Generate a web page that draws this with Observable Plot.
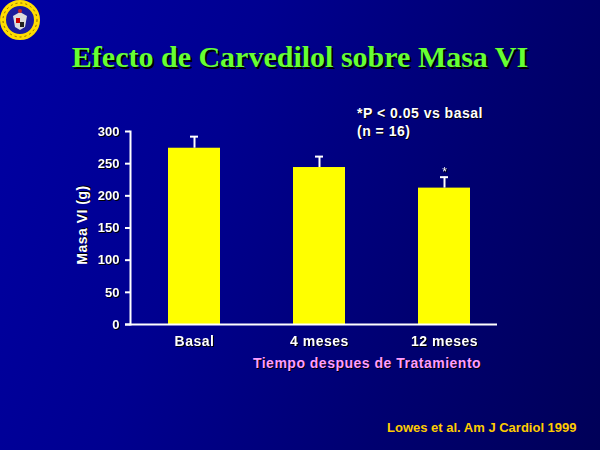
<!DOCTYPE html>
<html>
<head>
<meta charset="utf-8">
<script src="https://cdn.jsdelivr.net/npm/d3@7"></script>
<script src="https://cdn.jsdelivr.net/npm/@observablehq/plot@0.6"></script>
<style>
  html, body { margin: 0; padding: 0; }
  #slide {
    position: relative; width: 600px; height: 450px; overflow: hidden;
    background: linear-gradient(110deg, #0000a4 0%, #000090 35%, #000070 70%, #000058 100%);
    font-family: "Liberation Sans", Arial, sans-serif;
  }
  #chart { position: absolute; left: 0; top: 0; }
  #chart svg text { filter: drop-shadow(1px 1px 0 #000); }
  .t { position: absolute; white-space: nowrap; line-height: 1; }
  #title {
    left: 0; width: 600px; text-align: center; top: 42px;
    font-family: "Liberation Serif", "Times New Roman", serif; font-weight: bold;
    font-size: 30px; color: #66ff33; text-shadow: 2px 2px 0 #000;
  }
  #note { left: 357px; top: 104px; color: #fff; font-weight: bold; font-size: 14px; letter-spacing: 0.5px; line-height: 18px; text-shadow: 1px 1px 0 #000; }
  #xlab { left: 367px; top: 356px; transform: translateX(-50%); color: #ff9cff; font-weight: bold; font-size: 14px; letter-spacing: 0.5px; text-shadow: 1px 1px 0 #000; }
  #ylab { left: 82px; top: 225px; transform: translate(-50%, -50%) rotate(-90deg); color: #fff; font-weight: bold; font-size: 14px; letter-spacing: 0.5px; text-shadow: 1px 1px 0 #000; }
  #cap { left: 387px; top: 421px; color: #ffcc00; font-weight: bold; font-size: 13px; }
  #logo { position: absolute; left: 0; top: 0; }
</style>
</head>
<body>
<div id="slide">
  <svg id="logo" width="42" height="42" viewBox="0 0 42 42">
    <circle cx="20" cy="20" r="17" fill="#1c1c9c" stroke="#ffdd00" stroke-width="6"/>
    <circle cx="20" cy="20" r="17" fill="none" stroke="#886600" stroke-width="1" stroke-dasharray="2 3"/>
    <path d="M13 16 L20 12 L27 16 L25 27 L20 30 L15 27 Z" fill="#dddddd"/>
    <rect x="16" y="18" width="4" height="5" fill="#cc0000"/>
    <rect x="20" y="22" width="4" height="5" fill="#222222"/>
    <circle cx="20" cy="11" r="2" fill="#cc2222"/>
  </svg>
  <div class="t" id="title">Efecto de Carvedilol sobre Masa VI</div>
  <div class="t" id="note">*P &lt; 0.05 vs basal<br>(n = 16)</div>
  <div id="chart"></div>
  <div class="t" id="ylab">Masa VI (g)</div>
  <div class="t" id="xlab">Tiempo despues de Tratamiento</div>
  <div class="t" id="cap">Lowes et al. Am J Cardiol 1999</div>
</div>
<script>
const categories = ["Basal", "4 meses", "12 meses"];
const masa = [274, 244, 212];
const errorSup = [18, 17, 17];
const significance = ["", "", "*"];
const yTicks = [0, 50, 100, 150, 200, 250, 300];

const data = categories.map((c, i) => ({cat: c, val: masa[i], top: masa[i] + errorSup[i], sig: significance[i]}));

const chart = Plot.plot({
  width: 600,
  height: 450,
  marginTop: 131,
  marginBottom: 126,
  marginLeft: 130,
  marginRight: 93,
  style: {background: "transparent", color: "white", fontFamily: "'Liberation Sans', Arial, sans-serif"},
  x: {domain: categories, paddingInner: 0.585, paddingOuter: 0.2925},
  y: {domain: [0, 300]},
  marks: [
    Plot.barY(data, {x: "cat", y: "val", fill: "#ffff00"}),
    Plot.ruleX(data, {x: "cat", y1: "val", y2: "top", stroke: "white", strokeWidth: 2}),
    Plot.tickY(data, {x: "cat", y: "top", stroke: "white", strokeWidth: 2, insetLeft: 22, insetRight: 22}),
    Plot.text(data, {x: "cat", y: "top", text: "sig", fill: "white", fontSize: 12, dy: -5}),
    Plot.frame({anchor: "left", stroke: "white", strokeWidth: 2}),
    Plot.ruleY([0], {stroke: "white", strokeWidth: 2, insetLeft: -5, insetRight: 10}),
    Plot.axisY({ticks: yTicks, tickSize: 5, tickPadding: 6, fontSize: 13, fontWeight: "bold", strokeWidth: 2, label: null}),
    Plot.axisX({tickSize: 0, tickPadding: 12, fontSize: 14, fontWeight: "bold", label: null, className: "xax"})
  ]
});
document.getElementById("chart").appendChild(chart);
chart.querySelectorAll("[aria-label='x-axis tick label'] text").forEach(t => { t.style.letterSpacing = "0.5px"; });
</script>
</body>
</html>
